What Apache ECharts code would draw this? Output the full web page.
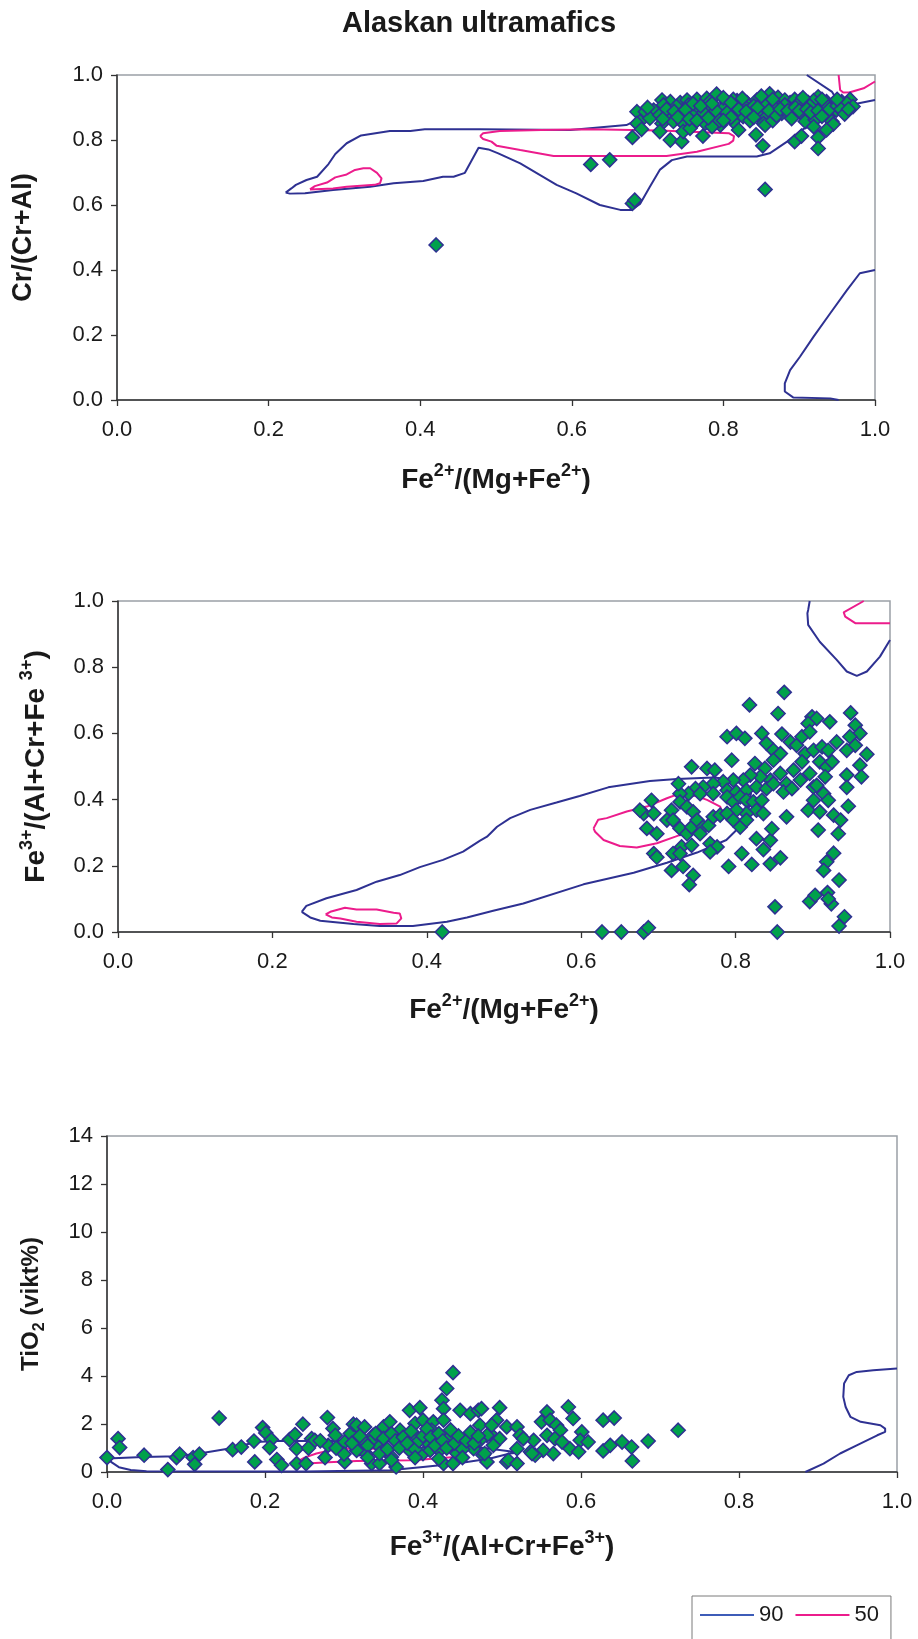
<!DOCTYPE html>
<html>
<head>
<meta charset="utf-8">
<title>Alaskan ultramafics</title>
<script src="https://cdn.jsdelivr.net/npm/echarts/dist/echarts.min.js"></script>
<style>
  html, body { margin: 0; padding: 0; background: #ffffff; }
  #chart { width: 918px; height: 1639px; }
</style>
</head>
<body>
<div id="chart"></div>
<script>
// ---- Spinel compositions, Alaskan-type ultramafic complexes ----

// Panel 1: Fe2+/(Mg+Fe2+) vs Cr/(Cr+Al)
const crPoints = [
  [0.719,0.923],[0.730,0.918],[0.743,0.915],[0.765,0.925],[0.778,0.928],[0.791,0.941],[0.804,0.918],[0.818,0.921],
  [0.831,0.915],[0.844,0.923],[0.861,0.942],[0.872,0.931],[0.888,0.915],[0.901,0.921],[0.912,0.915],[0.925,0.933],
  [0.936,0.918],[0.956,0.918],[0.967,0.925],[0.752,0.923],[0.782,0.918],[0.813,0.925],[0.853,0.918],[0.881,0.923],
  [0.894,0.925],[0.919,0.921],[0.945,0.913],
  [0.686,0.887],[0.697,0.887],[0.708,0.892],[0.721,0.908],[0.738,0.903],[0.754,0.908],[0.767,0.894],[0.782,0.903],
  [0.800,0.898],[0.813,0.903],[0.826,0.908],[0.840,0.905],[0.855,0.915],[0.866,0.903],[0.881,0.908],[0.897,0.908],
  [0.914,0.905],[0.932,0.898],[0.945,0.903],[0.963,0.913],[0.971,0.903],
  [0.690,0.857],[0.703,0.867],[0.716,0.877],[0.730,0.877],[0.745,0.882],[0.760,0.874],[0.774,0.884],[0.787,0.877],
  [0.802,0.872],[0.815,0.882],[0.826,0.872],[0.846,0.877],[0.857,0.872],[0.877,0.882],[0.892,0.884],[0.905,0.877],
  [0.919,0.872],[0.941,0.882],[0.949,0.892],
  [0.686,0.851],[0.719,0.851],[0.734,0.857],[0.747,0.851],[0.760,0.851],[0.776,0.851],[0.796,0.846],[0.813,0.857],
  [0.853,0.851],[0.855,0.846],[0.908,0.857],[0.921,0.862],[0.943,0.857],[0.945,0.849],
  [0.692,0.833],[0.680,0.808],[0.716,0.826],[0.730,0.800],[0.745,0.795],[0.747,0.826],[0.756,0.836],[0.773,0.812],
  [0.785,0.841],[0.820,0.831],[0.843,0.816],[0.852,0.782],[0.894,0.795],[0.903,0.812],[0.925,0.808],[0.925,0.774],
  [0.936,0.831],[0.919,0.841],
  [0.700,0.900],[0.725,0.895],[0.735,0.888],[0.750,0.893],[0.760,0.912],[0.770,0.905],[0.790,0.890],[0.795,0.860],
  [0.805,0.885],[0.810,0.870],[0.820,0.895],[0.830,0.888],[0.835,0.860],[0.845,0.900],[0.860,0.890],[0.865,0.860],
  [0.870,0.875],[0.875,0.895],[0.885,0.890],[0.890,0.866],[0.895,0.900],[0.900,0.890],[0.910,0.895],[0.915,0.885],
  [0.925,0.890],[0.930,0.873],[0.935,0.910],[0.940,0.895],[0.950,0.905],[0.955,0.895],[0.960,0.880],[0.965,0.895],
  [0.720,0.865],[0.740,0.870],[0.755,0.865],[0.765,0.860],[0.780,0.868],[0.800,0.860],[0.840,0.870],[0.785,0.912],
  [0.800,0.930],[0.810,0.915],[0.825,0.928],[0.850,0.935],[0.865,0.925],[0.905,0.930],[0.930,0.925],[0.950,0.925],
  [0.625,0.725],[0.650,0.739],[0.680,0.605],[0.683,0.615],[0.855,0.648],[0.421,0.477]
];
const crContour90 = [
  [0.2225,0.638],[0.230,0.651],[0.236,0.662],[0.250,0.677],[0.264,0.687],[0.279,0.726],[0.288,0.757],[0.303,0.790],
  [0.322,0.814],[0.360,0.828],[0.387,0.828],[0.406,0.833],[0.479,0.833],[0.598,0.831],[0.672,0.846],[0.690,0.866],
  [0.750,0.880],[0.850,0.884],[0.930,0.880],[0.945,0.872],[0.930,0.858],[0.903,0.831],[0.884,0.795],[0.861,0.759],
  [0.844,0.749],[0.752,0.749],[0.732,0.738],[0.716,0.708],[0.703,0.656],[0.690,0.603],[0.679,0.585],[0.664,0.585],
  [0.637,0.600],[0.606,0.636],[0.580,0.662],[0.532,0.728],[0.503,0.759],[0.490,0.771],[0.477,0.776],[0.459,0.699],
  [0.444,0.687],[0.430,0.687],[0.404,0.674],[0.365,0.667],[0.334,0.656],[0.285,0.646],[0.248,0.636],[0.228,0.635],
  [0.2225,0.638]
];
const crContour90Corner = [[0.910,1.0],[0.943,0.949],[0.946,0.938],[0.956,0.920],[0.967,0.908],[1.0,0.923]];
const crContour90Low = [
  [1.0,0.400],[0.980,0.390],[0.963,0.338],[0.941,0.267],[0.919,0.195],[0.901,0.133],[0.888,0.092],[0.881,0.051],
  [0.881,0.026],[0.892,0.008],[0.941,0.005],[0.952,0.0]
];
const crContour50 = [
  [0.479,0.812],[0.483,0.821],[0.505,0.828],[0.560,0.831],[0.624,0.833],[0.716,0.829],[0.807,0.821],[0.814,0.812],
  [0.813,0.798],[0.807,0.788],[0.765,0.764],[0.725,0.751],[0.576,0.751],[0.532,0.769],[0.501,0.782],[0.494,0.795],
  [0.483,0.803],[0.479,0.812]
];
const crContour50Small = [
  [0.2546,0.648],[0.261,0.658],[0.277,0.669],[0.288,0.685],[0.303,0.694],[0.314,0.708],[0.325,0.713],[0.334,0.713],
  [0.343,0.699],[0.349,0.682],[0.347,0.667],[0.340,0.662],[0.303,0.656],[0.285,0.651],[0.2546,0.648]
];
const crContour50Corner = [[0.952,1.0],[0.954,0.954],[0.958,0.946],[0.967,0.947],[0.985,0.959],[1.0,0.980]];

// Panel 2: Fe2+/(Mg+Fe2+) vs Fe3+/(Al+Cr+Fe3+)
const fe3Points = [
  [0.863,0.724],[0.818,0.686],[0.855,0.660],[0.949,0.662],[0.899,0.650],[0.905,0.645],[0.922,0.635],[0.894,0.630],
  [0.955,0.625],[0.961,0.600],[0.789,0.590],[0.801,0.600],[0.812,0.585],[0.834,0.600],[0.860,0.598],[0.840,0.570],
  [0.948,0.590],[0.955,0.564],[0.931,0.574],[0.944,0.549],[0.970,0.537],[0.871,0.574],[0.879,0.564],[0.886,0.590],
  [0.896,0.605],[0.849,0.549],[0.858,0.539],[0.890,0.539],[0.901,0.549],[0.912,0.559],[0.920,0.549],[0.795,0.519],
  [0.825,0.509],[0.838,0.494],[0.849,0.519],[0.743,0.499],[0.763,0.494],[0.773,0.489],[0.961,0.504],[0.963,0.469],
  [0.944,0.474],[0.944,0.437],[0.909,0.514],[0.918,0.499],[0.925,0.514],[0.886,0.514],[0.875,0.489],[0.896,0.479],
  [0.884,0.459],[0.901,0.438],[0.916,0.469],[0.866,0.448],[0.858,0.479],[0.845,0.459],[0.832,0.469],[0.819,0.474],
  [0.810,0.459],[0.797,0.459],[0.784,0.454],[0.771,0.448],[0.758,0.438],[0.748,0.433],[0.739,0.418],[0.728,0.418],
  [0.726,0.448],[0.754,0.418],[0.771,0.418],[0.789,0.428],[0.801,0.423],[0.814,0.428],[0.827,0.438],[0.840,0.433],
  [0.849,0.448],[0.862,0.423],[0.873,0.433],[0.905,0.443],[0.914,0.418],[0.920,0.398],[0.901,0.398],[0.894,0.368],
  [0.909,0.363],[0.946,0.380],[0.927,0.353],[0.936,0.338],[0.907,0.308],[0.933,0.297],[0.866,0.348],[0.691,0.398],
  [0.681,0.358],[0.694,0.358],[0.685,0.313],[0.698,0.297],[0.676,0.368],[0.717,0.368],[0.728,0.393],[0.737,0.378],
  [0.745,0.363],[0.711,0.338],[0.719,0.338],[0.728,0.313],[0.737,0.297],[0.743,0.317],[0.750,0.338],[0.758,0.317],
  [0.765,0.322],[0.771,0.348],[0.780,0.353],[0.789,0.408],[0.797,0.393],[0.806,0.408],[0.814,0.398],[0.823,0.393],
  [0.834,0.398],[0.827,0.368],[0.836,0.358],[0.814,0.358],[0.801,0.368],[0.789,0.358],[0.797,0.338],[0.806,0.317],
  [0.814,0.338],[0.754,0.297],[0.767,0.267],[0.776,0.257],[0.767,0.242],[0.730,0.257],[0.743,0.262],[0.719,0.237],
  [0.728,0.237],[0.694,0.237],[0.698,0.226],[0.717,0.186],[0.732,0.198],[0.745,0.171],[0.740,0.143],[0.791,0.198],
  [0.821,0.204],[0.808,0.237],[0.827,0.282],[0.845,0.277],[0.836,0.249],[0.847,0.312],[0.845,0.206],[0.858,0.224],
  [0.918,0.212],[0.914,0.186],[0.927,0.238],[0.934,0.157],[0.896,0.092],[0.903,0.111],[0.919,0.119],[0.924,0.085],
  [0.920,0.100],[0.934,0.018],[0.941,0.046],[0.851,0.076],[0.854,0.0],[0.627,0.0],[0.652,0.0],[0.681,0.0],
  [0.687,0.013],[0.420,0.0]
];
const fe3Contour90 = [
  [0.238,0.061],[0.244,0.079],[0.270,0.102],[0.309,0.127],[0.335,0.152],[0.365,0.172],[0.391,0.196],[0.421,0.218],
  [0.447,0.243],[0.469,0.276],[0.478,0.288],[0.491,0.318],[0.508,0.344],[0.534,0.369],[0.568,0.391],[0.598,0.411],
  [0.635,0.437],[0.689,0.456],[0.724,0.462],[0.771,0.467],[0.800,0.460],[0.820,0.420],[0.815,0.340],[0.788,0.278],
  [0.750,0.240],[0.711,0.209],[0.668,0.179],[0.603,0.144],[0.525,0.086],[0.486,0.064],[0.452,0.044],[0.426,0.031],
  [0.382,0.018],[0.339,0.018],[0.305,0.024],[0.275,0.031],[0.262,0.034],[0.249,0.044],[0.238,0.061]
];
const fe3Contour90Corner = [
  [0.896,1.0],[0.894,0.973],[0.893,0.963],[0.894,0.928],[0.909,0.877],[0.931,0.822],[0.944,0.787],[0.957,0.774],
  [0.970,0.787],[0.987,0.832],[1.0,0.882]
];
const fe3Contour50 = [
  [0.616,0.313],[0.622,0.339],[0.633,0.344],[0.659,0.364],[0.685,0.379],[0.711,0.404],[0.728,0.419],[0.750,0.410],
  [0.763,0.399],[0.780,0.379],[0.785,0.350],[0.760,0.320],[0.722,0.288],[0.698,0.268],[0.672,0.255],[0.650,0.260],
  [0.629,0.278],[0.618,0.303],[0.616,0.313]
];
const fe3Contour50Small = [
  [0.269,0.053],[0.275,0.061],[0.294,0.073],[0.309,0.068],[0.335,0.068],[0.357,0.058],[0.365,0.056],[0.367,0.041],
  [0.361,0.026],[0.339,0.024],[0.309,0.031],[0.288,0.041],[0.277,0.044],[0.269,0.053]
];
const fe3Contour50Corner = [[0.966,1.0],[0.940,0.966],[0.942,0.953],[0.955,0.933],[1.0,0.933]];

// Panel 3: Fe3+/(Al+Cr+Fe3+) vs TiO2 (wt%)
const tiPoints = [
  [0.0,0.60],[0.014,1.39],[0.016,1.02],[0.047,0.70],[0.077,0.10],[0.088,0.60],[0.092,0.74],[0.109,0.60],[0.111,0.32],
  [0.117,0.74],[0.142,2.25],[0.159,0.93],[0.170,1.04],[0.186,1.29],[0.187,0.42],[0.197,1.85],[0.201,1.63],[0.208,1.35],
  [0.206,1.02],[0.215,0.52],[0.221,0.28],[0.231,1.35],[0.238,1.56],[0.240,0.97],[0.240,0.35],[0.248,1.99],[0.252,0.35],
  [0.259,1.39],[0.263,1.32],[0.276,0.60],[0.279,2.27],[0.286,1.81],[0.289,1.53],[0.280,1.11],[0.301,0.42],[0.301,1.25],
  [0.308,1.60],[0.312,1.99],[0.316,1.95],[0.320,0.97],[0.326,1.88],[0.328,0.77],[0.335,0.35],[0.337,1.53],[0.345,0.35],
  [0.350,1.88],[0.358,2.09],[0.366,0.21],[0.360,0.63],[0.350,1.04],[0.341,1.18],[0.345,0.77],[0.335,1.32],[0.324,1.32],
  [0.316,0.90],[0.371,1.74],[0.383,2.57],[0.390,2.02],[0.396,2.68],[0.400,2.16],[0.392,1.46],[0.383,0.90],[0.400,0.77],
  [0.413,2.09],[0.411,1.74],[0.405,1.25],[0.409,0.90],[0.421,0.90],[0.426,0.35],[0.424,2.99],[0.426,2.64],[0.430,3.48],
  [0.438,4.14],[0.426,2.16],[0.434,1.46],[0.443,0.77],[0.438,0.35],[0.447,2.57],[0.460,2.43],[0.470,2.57],[0.472,1.95],
  [0.464,0.97],[0.476,0.70],[0.481,0.42],[0.485,1.60],[0.493,2.16],[0.497,2.68],[0.506,1.88],[0.506,0.42],
  [0.474,2.64],[0.519,1.88],[0.523,1.53],[0.487,1.95],[0.481,1.53],[0.472,1.32],[0.478,0.77],[0.508,0.49],[0.519,0.35],
  [0.519,0.97],[0.536,0.84],[0.540,1.32],[0.550,2.09],[0.557,2.50],[0.561,2.16],[0.569,1.95],[0.574,1.74],[0.584,2.71],
  [0.590,2.23],[0.601,1.67],[0.599,1.32],[0.609,1.25],[0.586,0.97],[0.597,0.84],[0.565,0.77],[0.552,0.90],[0.542,0.70],
  [0.557,1.53],[0.567,1.39],[0.576,1.25],[0.538,0.77],[0.527,1.39],[0.497,1.39],[0.489,1.11],[0.628,2.16],[0.642,2.25],
  [0.628,0.88],[0.637,1.11],[0.652,1.25],[0.664,1.04],[0.665,0.46],[0.685,1.29],[0.723,1.74],
  [0.310,1.20],[0.320,1.50],[0.330,1.10],[0.340,1.60],[0.350,1.40],[0.355,0.95],[0.360,1.60],[0.365,1.30],[0.370,1.00],
  [0.375,1.45],[0.380,1.20],[0.385,1.70],[0.390,0.95],[0.395,1.30],[0.400,1.50],[0.405,1.80],[0.410,1.45],[0.415,1.10],
  [0.420,1.60],[0.425,1.30],[0.430,1.00],[0.435,1.75],[0.440,1.20],[0.445,1.50],[0.450,0.95],[0.455,1.30],[0.460,1.65],
  [0.465,1.20],[0.470,1.50],[0.330,0.60],[0.360,0.50],[0.390,0.60],[0.420,0.55],[0.450,0.60],[0.300,0.75],[0.290,1.00],
  [0.270,1.30],[0.255,1.00]
];
const tiContour90 = [
  [0.0,0.56],[0.006,0.40],[0.015,0.20],[0.030,0.08],[0.050,0.03],[0.250,0.02],[0.358,0.07],[0.400,0.21],[0.443,0.35],
  [0.485,0.56],[0.510,0.77],[0.522,0.81],[0.514,0.84],[0.485,0.97],[0.440,1.15],[0.380,1.28],[0.300,1.30],[0.240,1.29],
  [0.215,1.29],[0.189,1.25],[0.155,0.98],[0.117,0.77],[0.088,0.66],[0.046,0.63],[0.0,0.56]
];
const tiContour90Right = [
  [0.884,0.0],[0.907,0.35],[0.928,0.77],[0.949,1.11],[0.975,1.53],[0.985,1.67],[0.985,1.81],[0.979,1.95],[0.954,2.09],
  [0.941,2.30],[0.935,2.71],[0.932,3.13],[0.933,3.69],[0.939,4.03],[0.949,4.17],[0.970,4.24],[1.0,4.31]
];
const tiContour50 = [
  [0.242,0.45],[0.250,0.60],[0.265,0.77],[0.285,0.92],[0.303,0.97],[0.337,0.97],[0.380,0.99],[0.420,1.00],[0.445,0.85],
  [0.440,0.62],[0.400,0.52],[0.383,0.49],[0.316,0.46],[0.280,0.41],[0.253,0.35],[0.242,0.45]
];

// Axis ranges and tick steps
const ratioRange = { min: 0, max: 1, step: 0.2 };
const tiRange = { min: 0, max: 14, step: 2 };

// Legend entries (probability contour levels, %)
const contourLevels = ['90', '50'];

// ---- styling ----
const FONT = '"Liberation Sans", Arial, Helvetica, sans-serif';
const INK = '#1a1a1a';
const BLUE = '#2E3192';
const BLUE_KEY = '#3D5CB8';
const PINK = '#EC1C8C';
const GREEN = '#00A14B';

const nameRich = {
  b: { fontFamily: FONT, fontSize: 28, fontWeight: 'bold', color: INK, lineHeight: 36 },
  s: { fontFamily: FONT, fontSize: 18, fontWeight: 'bold', color: INK, lineHeight: 18, verticalAlign: 'top' }
};

function valueAxis(gridIndex, range, name, nameGap, isY, fmt, richOverride) {
  return {
    type: 'value',
    gridIndex: gridIndex,
    min: range.min,
    max: range.max,
    interval: range.step,
    name: name,
    nameLocation: 'middle',
    nameGap: nameGap,
    nameTextStyle: { rich: richOverride || nameRich },
    axisLine: { show: true, onZero: false, lineStyle: { color: '#333333', width: 1.5 } },
    axisTick: { show: true, inside: false, length: 6, lineStyle: { color: '#333333', width: 1.3 } },
    axisLabel: {
      show: true,
      margin: isY ? 14 : 19,
      fontFamily: FONT,
      fontSize: 22,
      color: INK,
      formatter: fmt
    },
    splitLine: { show: false }
  };
}

const oneDecimal = v => v.toFixed(1);
const integer = v => String(Math.round(v));

function contour(name, data, color, idx) {
  return {
    type: 'line',
    name: name,
    data: data,
    xAxisIndex: idx,
    yAxisIndex: idx,
    symbol: 'none',
    showSymbol: false,
    smooth: false,
    silent: true,
    z: 2,
    lineStyle: { color: color, width: 2 },
    itemStyle: { color: color }
  };
}

function points(data, idx) {
  return {
    type: 'scatter',
    name: 'spinel',
    data: data,
    xAxisIndex: idx,
    yAxisIndex: idx,
    symbol: 'diamond',
    symbolSize: 14,
    clip: false,
    z: 5,
    itemStyle: { color: GREEN, borderColor: BLUE, borderWidth: 1.6, opacity: 1 }
  };
}

const gridBase = { show: true, borderColor: '#9aa0a6', borderWidth: 1.5, backgroundColor: 'transparent', containLabel: false, outerBoundsMode: 'none' };

const chart = echarts.init(document.getElementById('chart'), null, { renderer: 'canvas' });

const option = {
  animation: false,
  backgroundColor: '#ffffff',
  graphic: [{
    type: 'text',
    x: 479,
    y: 24,
    style: {
      text: 'Alaskan ultramafics',
      fontFamily: FONT,
      fontSize: 29,
      fontWeight: 'bold',
      fill: INK,
      align: 'center',
      verticalAlign: 'middle',
      textAlign: 'center',
      textVerticalAlign: 'middle'
    }
  }],
  grid: [
    Object.assign({ left: 117, top: 75, width: 758, height: 325 }, gridBase),
    Object.assign({ left: 118, top: 601, width: 772, height: 331 }, gridBase),
    Object.assign({ left: 107, top: 1136, width: 790, height: 336 }, gridBase)
  ],
  xAxis: [
    valueAxis(0, ratioRange, '{b|Fe}{s|2+}{b|/(Mg+Fe}{s|2+}{b|)}', 62, false, oneDecimal),
    valueAxis(1, ratioRange, '{b|Fe}{s|2+}{b|/(Mg+Fe}{s|2+}{b|)}', 60, false, oneDecimal),
    valueAxis(2, ratioRange, '{b|Fe}{s|3+}{b|/(Al+Cr+Fe}{s|3+}{b|)}', 57, false, oneDecimal)
  ],
  yAxis: [
    valueAxis(0, ratioRange, '{b|Cr/(Cr+Al)}', 76, true, oneDecimal, {
      b: { fontFamily: FONT, fontSize: 27, fontWeight: 'bold', color: INK, lineHeight: 34 }
    }),
    valueAxis(1, ratioRange, '{b|Fe}{s|3+}{b|/(Al+Cr+Fe }{s|3+}{b|)}', 64, true, oneDecimal),
    valueAxis(2, tiRange, '{b|TiO}{d|2}{b| (vikt%)}', 59, true, integer, {
      b: { fontFamily: FONT, fontSize: 24, fontWeight: 'bold', color: INK, lineHeight: 34 },
      d: { fontFamily: FONT, fontSize: 16, fontWeight: 'bold', color: INK, lineHeight: 24, verticalAlign: 'bottom' }
    })
  ],
  legend: {
    show: true,
    left: 692,
    top: 1596,
    orient: 'horizontal',
    data: [
      { name: contourLevels[0], icon: 'rect', itemStyle: { color: BLUE_KEY } },
      { name: contourLevels[1], icon: 'rect', itemStyle: { color: PINK } }
    ],
    itemWidth: 54,
    itemHeight: 2,
    itemGap: 12,
    padding: [8, 12, 30, 8],
    borderColor: '#7a7a7a',
    borderWidth: 1,
    borderRadius: 0,
    backgroundColor: '#ffffff',
    textStyle: { fontFamily: FONT, fontSize: 22, color: INK },
    selectedMode: false
  },
  series: [
    contour(contourLevels[0], crContour90, BLUE, 0),
    contour(contourLevels[0], crContour90Corner, BLUE, 0),
    contour(contourLevels[0], crContour90Low, BLUE, 0),
    contour(contourLevels[1], crContour50, PINK, 0),
    contour(contourLevels[1], crContour50Small, PINK, 0),
    contour(contourLevels[1], crContour50Corner, PINK, 0),
    points(crPoints, 0),

    contour(contourLevels[0], fe3Contour90, BLUE, 1),
    contour(contourLevels[0], fe3Contour90Corner, BLUE, 1),
    contour(contourLevels[1], fe3Contour50, PINK, 1),
    contour(contourLevels[1], fe3Contour50Small, PINK, 1),
    contour(contourLevels[1], fe3Contour50Corner, PINK, 1),
    points(fe3Points, 1),

    contour(contourLevels[0], tiContour90, BLUE, 2),
    contour(contourLevels[0], tiContour90Right, BLUE, 2),
    contour(contourLevels[1], tiContour50, PINK, 2),
    points(tiPoints, 2)
  ]
};

chart.setOption(option);
</script>
</body>
</html>
